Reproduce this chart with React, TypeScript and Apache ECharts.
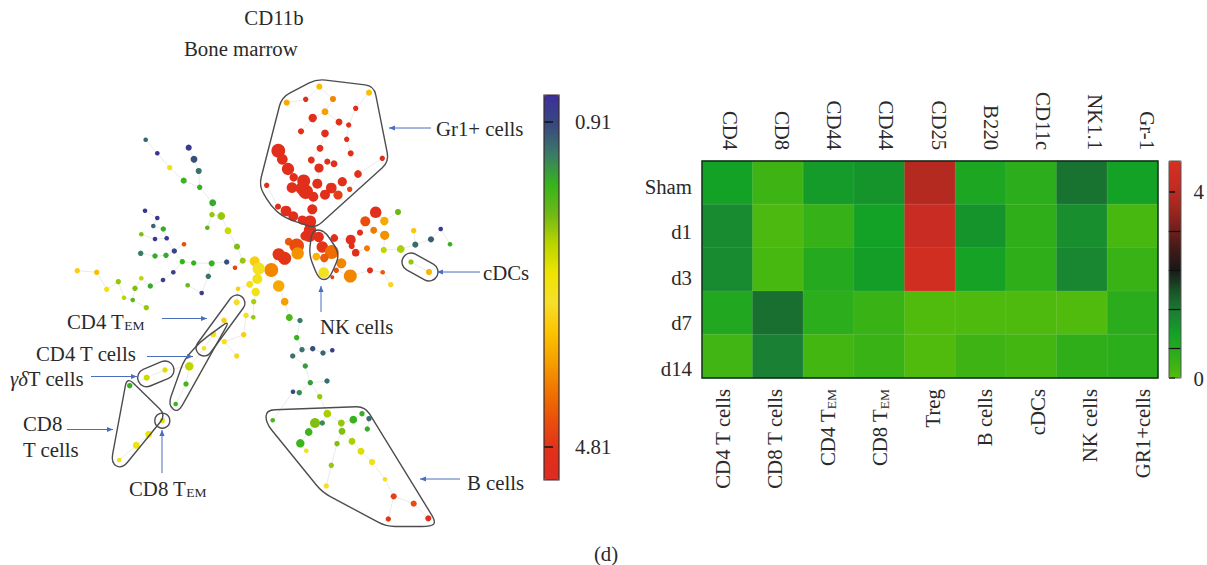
import React, { useEffect, useRef } from "react";
import * as echarts from "echarts";

// ---- Spanning-tree nodes: [x, y, cell count, CD11b expression] ----
const gr1Nodes = [
  [319.3,86.7,5.3,3.5],[369,92.7,5.3,3.5],[286.7,102.7,5.3,3.7],[305.7,99.3,4.7,4.9],[333,99,5.3,4.0],
  [355.7,108.3,4.7,4.85],[325,111.7,6,3.8],[312.7,118,7.3,4.9],[339,122,6,4.9],[348.7,125,4.7,4.9],
  [301,131.3,5.3,4.9],[325,133.3,6.7,4.9],[346.7,139.3,4.7,4.9],[320,148.3,6,4.85],[350.7,153.3,5.3,4.85],
  [382.3,158.3,4.7,4.85],[278.3,150.7,12,4.9],[282.3,159.3,9.3,4.9],[311.3,160,6,4.85],[327.3,161.7,5.3,4.85],
  [334,163.7,6,4.85],[319,168,8,4.9],[288,169,10.7,4.9],[358,174,6.7,4.85],[293.7,177.3,7.3,4.9],
  [342.3,181.7,8,4.85],[266.7,185.3,4.7,4.85],[303.7,181,11.3,4.9],[317.3,183.7,8.7,4.9],[292,187.7,9.3,4.9],
  [301.7,188.3,10.7,4.9],[305.7,191.7,12.7,4.9],[331.3,188,9.3,4.9],[349.7,189.3,4.7,4.6],[313.3,196.7,8.7,4.9],
  [325,194.7,8.7,4.9],[338,195,8,4.7],[278,206.7,5.3,4.85],[286,211,9.3,4.9],[293.3,216.3,8.7,4.9],
  [312.3,209.3,8.7,4.9],[302.3,220,8,4.9],[310,221.7,10.7,4.9],[310,230,10.7,4.9],[309.3,235,12,4.9],
  [305,236,8,4.9],[318.7,237,9,4.9],
];
const nkNodes = [
  [322.3,247,10,4.8],[331.7,252,12,4.2],[324.3,258,7.3,4.4],[316.3,256.7,6.7,3.6],[323.7,272.7,9.3,3.0],
  [341.3,263.3,8.7,4.0],[336.3,270.3,4.7,4.5],[332.3,277.3,3.5,4.7],[350.3,276,11.3,4.0],
];
const rightNodes = [
  [334.3,238,6.7,4.85],[375.7,212.3,10,4.9],[365.3,221.3,8.7,4.5],[384.3,221,7.3,3.7],[398,212,5.3,2.0],
  [373.7,230.3,6,4.1],[384.7,235.3,8,3.9],[360,232.7,5.3,4.85],[350.7,239.7,8.7,4.9],[351.7,246,5.3,4.85],
  [355.7,252.7,6.7,4.85],[367,248.3,5.3,4.1],[383.7,250,5.3,2.4],[400.7,249,6.7,2.3],[413.7,230.7,4.7,3.4],
  [415.3,244.7,5.3,1.2],[431,239.3,5.3,1.1],[440.7,229,4,0.7],[450,244.3,4,1.65],[370,270.3,5.3,4.85],
  [382.7,272.3,4,4.4],[390.7,284.7,4.7,3.2],
];
const cdcNodes = [[411,262,4.7,2.2],[429,272,5.3,3.6]];
const hubNodes = [
  [288.7,241.7,6.7,4.4],[296.7,245.7,12.7,4.55],[297.7,253.3,10.7,3.9],[278.7,254.3,10.7,4.8],[284.7,258.3,11.3,4.8],
  [271.3,270,12,4.0],[278.7,286,10,3.7],[284.7,301.7,6.7,3.8],[254.7,261.3,8.7,3.3],[258.7,268.7,10.7,3.0],
  [257.3,279,8.7,2.9],[249.7,284.3,6,2.9],[255.7,292,7.3,2.9],[238,288.7,4,3.3],[253.7,301.7,4.7,2.3],
  [246,315.3,4.7,2.9],[253.3,317.3,4,2.2],[242.7,260.7,5.3,2.2],[237,246.7,5.3,2.1],[235,267.7,4,4.6],
];
const upperLeftNodes = [
  [145.7,139.7,4,1.15],[157.3,153.3,4,0.7],[188.7,147.7,5.3,0.75],[194,159.3,6,1.0],[198.7,171,5.3,1.25],
  [169.7,167.7,4.7,2.8],[183.7,180.7,5.3,1.7],[199.7,187.3,4.7,1.65],[212.7,202.7,6,1.6],[212,214.7,4.7,2.2],
  [221.3,216,6.7,2.2],[207.3,227.7,4,1.9],[228,230.7,6,2.5],[226.7,262,4.7,1.0],[211.7,263.3,5.3,1.65],
  [193.7,263,4.7,1.65],[182.3,261.7,4.7,1.65],[174.3,251,4.7,0.9],[184,244.3,4,4.5],[166,255.3,4.7,1.6],
  [155,256,4.7,1.6],[140.7,253.3,4.7,1.3],[166.7,238.3,4,0.7],[155,239,4,0.7],[141.3,234.3,4,2.1],
  [163.3,229,4.7,1.6],[153.3,226,4,1.15],[157.3,218,4,0.7],[145,210.7,4,0.7],[173.3,272.3,4,0.8],
  [163,280,4,0.85],[150.3,286,4.7,1.6],[135,288.3,4.7,2.1],[141.3,278.3,4,2.4],[118.3,281.7,4.7,2.2],
  [96.7,272.3,4.7,3.5],[77.3,270.7,4.7,3.3],[106.7,289.3,4.7,2.9],[124,297.7,4,2.4],[132.7,300,4,1.9],
  [146.3,307.7,4.7,2.2],[187.7,285.3,4,2.0],[201.7,293,4,0.8],[208.3,276.3,4.7,1.25],
];
const tCellNodes = [
  [236.7,302.3,5.3,3.1],[224,320.3,4.7,3.3],[213.3,334.3,5.3,3.0],[204,348.3,4,3.0],[243.7,334.7,4.7,3.3],
  [224.3,341.7,4.7,3.0],[236.7,356,4.7,3.2],[189.3,366.3,7.3,2.4],[186,384,4.7,1.75],[175.7,404,4,1.7],
  [165,370,4.7,2.6],[146.7,377.7,5.3,2.5],[129.7,385.7,4.7,1.65],[162.3,420.7,4.7,2.7],[148.7,434.3,6,2.75],
  [136.3,445.3,6,2.75],[119.3,460,4,2.9],
];
const midNodes = [
  [289.3,317.5,6,1.8],[300,320.5,4.7,1.3],[296.7,337.7,4.7,1.65],[302,349.7,4.7,1.25],[312.7,348.7,4.7,1.0],
  [323,353,4.7,1.15],[332.3,350.3,4,0.75],[292.7,356,4.7,1.25],[305.3,366,4.7,1.5],[310.3,382.7,4.7,1.5],
  [327,381,4.7,1.2],[293,391.7,4,0.95],[299.3,392.7,4.7,1.4],[319.7,396.7,4.7,2.2],
];
const bCellNodes = [
  [272.7,420.3,4,1.8],[327.3,413.7,6.7,2.3],[315,423,8.7,2.1],[322.3,423,4.7,1.4],[341.3,423,6,2.2],
  [362,413.7,4.7,1.6],[353.3,419.7,6.7,1.65],[369,418.7,4.7,1.2],[367.3,429,4.7,1.6],[342,431.3,6,2.1],
  [308.7,432,6.7,1.7],[300.3,443.3,7.3,1.7],[306.3,450.7,4,2.9],[337,443.7,4.7,2.1],[352,441.3,6,2.3],
  [361,451.3,6,2.6],[331.3,465.3,4.7,2.2],[372,462,5.3,2.8],[326.3,486,4.7,3.0],[385,479.3,4,3.1],
  [393.7,496.3,5.3,4.65],[413.7,503.7,5.3,4.55],[388.3,519,4.7,4.8],[428.3,518.3,5.3,4.9],
];
const treeNodes = [
  ...gr1Nodes, ...nkNodes, ...rightNodes, ...cdcNodes, ...hubNodes,
  ...upperLeftNodes, ...tCellNodes, ...midNodes, ...bCellNodes,
];

// ---- Tree colour scale ----
const treeTicks = [0.91, 4.81];
const treeMin = 0.589;
const treeMax = 5.21;
const treePalette = [
  "#3c2f9c","#37487f","#3a7a68","#35b41c","#6db816","#b8d400","#eee400",
  "#f5df2a","#fcc400","#f5a000","#f07400","#ea4e0c","#e1301a","#df2a22",
];

// ---- Heat map ----
const markers = ["CD4","CD8","CD44","CD44","CD25","B220","CD11c","NK1.1","Gr-1"];
const cellTypes = ["CD4 T cells","CD8 T cells","CD4 T{sub|EM}","CD8 T{sub|EM}","Treg","B cells","cDCs","NK cells","GR1+cells"];
const timepoints = ["Sham","d1","d3","d7","d14"];
const sham = [0.93,0.28,1.03,1.12,3.91,0.79,0.51,1.54,0.93];
const d1 = [1.26,0.09,0.37,0.93,4.19,1.12,0.47,1.21,0.14];
const d3 = [1.26,0.14,0.65,0.98,4.47,0.89,0.47,1.30,0.33];
const d7 = [0.70,1.58,0.51,0.33,0.02,0.05,0.05,0.02,0.56];
const d14 = [0.23,1.40,0.19,0.33,0.02,0.28,0.19,0.47,0.51];
const heatRows = [sham, d1, d3, d7, d14];
const heatMax = 4.66;
const heatLabelTicks = [0, 4];
const heatMinorTicks = [0.64, 1.48, 2.32, 3.15];
const heatPalette = [
  "#52bc0c","#2fae1a","#14a226","#1a8034","#185428","#181818",
  "#451a18","#7a201c","#a8281f","#c82c22","#d63020",
];

const SERIF = '"Liberation Serif"';
const FONT_SIZE = 20.8;
const INK = "#2a2a2a";
const BLUE = "#4a6ebd";

// Enclosures drawn round the cell populations
const hulls: number[][][] = [
  [[281.7,97.3],[316.7,79],[374,86],[389,161.7],[315,228.5],[283,217],[271,206],[259,186]],
  [[312,230],[324,230],[340,254],[329,279.5],[319,279.5],[309,255]],
  [[266,410],[365,406.5],[436,522],[431,526.5],[386,526.5],[322,492],[266,423]],
  [[230,320],[178,413],[168,405],[184,360],[200,342]],
  [[127,377],[166,415],[122,469],[111,463]],
];
const capsules: number[][] = [
  [411,262,429,272,9],
  [237,303,204,348,8],
  [165,370,146.7,377.7,9],
];

function roundedPath(pts: number[][], r: number) {
  const n = pts.length;
  let d = "";
  pts.forEach((p, i) => {
    const a = pts[(i + n - 1) % n];
    const b = pts[(i + 1) % n];
    const la = Math.hypot(a[0] - p[0], a[1] - p[1]);
    const lb = Math.hypot(b[0] - p[0], b[1] - p[1]);
    const ra = Math.min(r, la / 2);
    const rb = Math.min(r, lb / 2);
    const sx = p[0] + ((a[0] - p[0]) * ra) / la;
    const sy = p[1] + ((a[1] - p[1]) * ra) / la;
    const ex = p[0] + ((b[0] - p[0]) * rb) / lb;
    const ey = p[1] + ((b[1] - p[1]) * rb) / lb;
    d += `${i === 0 ? "M" : "L"}${sx} ${sy}Q${p[0]} ${p[1]} ${ex} ${ey}`;
  });
  return d + "Z";
}

function capsulePath([x0, y0, x1, y1, r]: number[]) {
  const l = Math.hypot(x1 - x0, y1 - y0);
  const nx = (-(y1 - y0) / l) * r;
  const ny = ((x1 - x0) / l) * r;
  return (
    `M${x0 + nx} ${y0 + ny}L${x1 + nx} ${y1 + ny}` +
    `A${r} ${r} 0 0 0 ${x1 - nx} ${y1 - ny}L${x0 - nx} ${y0 - ny}` +
    `A${r} ${r} 0 0 0 ${x0 + nx} ${y0 + ny}Z`
  );
}

// Minimum spanning tree links between the nodes
function spanningLinks(nodes: number[][]) {
  const inTree = new Array(nodes.length).fill(false);
  const best = new Array(nodes.length).fill(Infinity);
  const from = new Array(nodes.length).fill(-1);
  best[0] = 0;
  const links: any[] = [];
  for (let k = 0; k < nodes.length; k++) {
    let u = -1;
    for (let i = 0; i < nodes.length; i++) if (!inTree[i] && (u < 0 || best[i] < best[u])) u = i;
    inTree[u] = true;
    if (from[u] >= 0) links.push({ coords: [nodes[from[u]].slice(0, 2), nodes[u].slice(0, 2)] });
    for (let i = 0; i < nodes.length; i++) {
      const dist = Math.hypot(nodes[i][0] - nodes[u][0], nodes[i][1] - nodes[u][1]);
      if (!inTree[i] && dist < best[i]) {
        best[i] = dist;
        from[i] = u;
      }
    }
  }
  return links;
}

function arrow(x0: number, y0: number, x1: number, y1: number) {
  const l = Math.hypot(x1 - x0, y1 - y0);
  const ux = (x1 - x0) / l;
  const uy = (y1 - y0) / l;
  return [
    { type: "line", z: 90, silent: true, shape: { x1: x0, y1: y0, x2: x1, y2: y1 }, style: { stroke: BLUE, lineWidth: 1 } },
    {
      type: "polygon", z: 90, silent: true,
      shape: { points: [[x1, y1], [x1 - ux * 6 - uy * 2.6, y1 - uy * 6 + ux * 2.6], [x1 - ux * 6 + uy * 2.6, y1 - uy * 6 - ux * 2.6]] },
      style: { fill: BLUE },
    },
  ];
}

const richSub = { sub: { fontSize: 13.5, fontFamily: SERIF, fill: INK, color: INK, padding: [9, 0, 0, 0] } };
const richIt = { it: { fontSize: FONT_SIZE, fontFamily: SERIF, fontStyle: "italic", fill: INK } };

function label(text: string, x: number, y: number, align = "left") {
  return {
    type: "text", z: 95, silent: true, x, y,
    style: {
      text, fontSize: FONT_SIZE, fontFamily: SERIF, fill: INK, align, verticalAlign: "middle",
      rich: { ...richSub, ...richIt },
    },
  };
}

const axisFont = { fontFamily: SERIF, fontSize: FONT_SIZE, color: INK };
const hiddenValue = (gridIndex: number, min = 0, max = 1) => ({ type: "value", gridIndex, show: false, min, max });

export default function App() {
  const ref = useRef<HTMLDivElement>(null);
  useEffect(() => {
    document.body.style.margin = "0";
    document.body.style.background = "#fff";
    const shapes: any[] = [];
    [...hulls.map((h) => roundedPath(h, 9)), ...capsules.map(capsulePath)].forEach((d, i) => {
      const name = "enclosure" + i;
      echarts.graphic.registerShape(name, echarts.graphic.extendPath(d, {}));
      shapes.push({
        type: name, x: 0, y: 0, z: 80, silent: true,
        style: { fill: "none", stroke: "#4d4d4d", lineWidth: 1.4 },
      });
    });
    const chart = echarts.init(ref.current!, undefined, { renderer: "svg" });
    const heatData: number[][] = [];
    heatRows.forEach((row, r) => row.forEach((v, c) => heatData.push([c, r, v])));
    chart.setOption({
      animation: false,
      backgroundColor: "#fff",
      grid: [
        { left: 0, top: 0, width: 540, height: 565 },
        { left: 544, top: 95, width: 15, height: 385 },
        { left: 702, top: 161, width: 456, height: 217 },
        { left: 704, top: 163.2, width: 470, height: 228 },
        { left: 695.75, top: 161, width: 472.5, height: 217 },
        { left: 1169, top: 161, width: 12, height: 217 },
      ],
      xAxis: [
        hiddenValue(0, 0, 540),
        hiddenValue(1),
        { type: "category", gridIndex: 2, show: false, data: markers },
        {
          type: "category", gridIndex: 3, position: "top", data: markers,
          axisLine: { show: false }, axisTick: { show: false },
          axisLabel: { ...axisFont, rotate: 90, margin: 13, interval: 0 },
        },
        {
          type: "category", gridIndex: 4, position: "bottom", data: cellTypes,
          axisLine: { show: false }, axisTick: { show: false },
          axisLabel: { ...axisFont, rotate: 90, margin: 11, interval: 0, rich: richSub },
        },
        hiddenValue(5),
      ],
      yAxis: [
        { type: "value", gridIndex: 0, show: false, min: 0, max: 565, inverse: true },
        {
          type: "value", gridIndex: 1, position: "right", min: treeMin, max: treeMax, inverse: true, z: 20,
          axisLine: { show: false },
          axisTick: { show: true, length: 9, lineStyle: { color: "#111", width: 1.5 }, customValues: treeTicks },
          axisLabel: { ...axisFont, margin: 16, customValues: treeTicks, formatter: (v: number) => v.toFixed(2), showMinLabel: true, showMaxLabel: true },
          splitLine: { show: false },
        },
        { type: "category", gridIndex: 2, show: false, inverse: true, data: timepoints },
        {
          type: "category", gridIndex: 3, position: "left", inverse: true, data: timepoints,
          axisLine: { show: false }, axisTick: { show: false },
          axisLabel: { ...axisFont, margin: 12, interval: 0 },
        },
        { type: "category", gridIndex: 4, show: false, inverse: true, data: timepoints },
        {
          type: "value", gridIndex: 5, position: "right", min: 0, max: heatMax, z: 20,
          axisLine: { show: false },
          axisTick: { show: true, length: 6, lineStyle: { color: "#111", width: 1.5 }, customValues: heatLabelTicks },
          axisLabel: { ...axisFont, margin: 13, customValues: heatLabelTicks, showMinLabel: true },
          splitLine: { show: false },
        },
        {
          type: "value", gridIndex: 5, position: "right", min: 0, max: heatMax, z: 20,
          axisLine: { show: false },
          axisTick: { show: true, inside: true, length: 12, lineStyle: { color: "#111", width: 1.2 }, customValues: heatMinorTicks },
          axisLabel: { show: false },
          splitLine: { show: false },
        },
      ],
      visualMap: [
        {
          type: "continuous", seriesIndex: 1, dimension: 3, min: treeMin, max: treeMax,
          inRange: { color: treePalette }, left: 544, top: 95, itemWidth: 15, itemHeight: 385,
          inverse: true, calculable: false, realtime: false, hoverLink: false, padding: 0, text: null,
          showLabel: false,
        },
        {
          type: "continuous", seriesIndex: 2, dimension: 2, min: 0, max: heatMax,
          inRange: { color: heatPalette }, left: 1169, top: 161, itemWidth: 12, itemHeight: 217,
          calculable: false, realtime: false, hoverLink: false, padding: 0, text: null,
          showLabel: false,
        },
      ],
      series: [
        {
          type: "lines", coordinateSystem: "cartesian2d", xAxisIndex: 0, yAxisIndex: 0, silent: true, z: 1,
          lineStyle: { color: "#ebebeb", width: 1, opacity: 1 },
          data: spanningLinks(treeNodes),
        },
        {
          type: "scatter", xAxisIndex: 0, yAxisIndex: 0, z: 2, silent: true,
          symbolSize: (v: number[]) => v[2] * 1.15,
          itemStyle: { opacity: 1 },
          data: treeNodes,
        },
        {
          type: "heatmap", xAxisIndex: 2, yAxisIndex: 2, z: 2, silent: true,
          itemStyle: { borderColor: "rgba(255,255,255,0.14)", borderWidth: 0.6 },
          data: heatData,
        },
      ],
      graphic: {
        elements: [
          ...shapes,
          { type: "circle", z: 80, silent: true, shape: { cx: 162.3, cy: 420.7, r: 7.5 }, style: { fill: "none", stroke: "#4d4d4d", lineWidth: 1.4 } },
          { type: "rect", z: 100, silent: true, shape: { x: 544, y: 95, width: 15, height: 385 }, style: { fill: "none", stroke: "#3a2a2a", lineWidth: 1.2 } },
          { type: "rect", z: 100, silent: true, shape: { x: 702, y: 161, width: 456, height: 217 }, style: { fill: "none", stroke: "#10261a", lineWidth: 1.4 } },
          { type: "rect", z: 100, silent: true, shape: { x: 1169, y: 161, width: 12, height: 217 }, style: { fill: "none", stroke: "#555", lineWidth: 1 } },
          ...arrow(431, 128, 389, 128),
          ...arrow(480, 272, 437, 272),
          ...arrow(321, 312, 321, 286),
          ...arrow(460, 479, 420, 479),
          ...arrow(162, 318.5, 207, 318.5),
          ...arrow(147, 356.5, 193, 356.5),
          ...arrow(91, 376.5, 137, 376.5),
          ...arrow(67, 429.5, 113, 429.5),
          ...arrow(162, 473, 162, 430),
          label("CD11b", 274, 17, "center"),
          label("Bone marrow", 184, 48),
          label("Gr1+ cells", 436, 128),
          label("cDCs", 483, 272),
          label("NK cells", 320, 326),
          label("B cells", 467, 482),
          label("CD4 T{sub|EM}", 67, 321),
          label("CD4 T cells", 36, 353),
          label("{it|γδ}T cells", 10, 378),
          label("CD8", 23, 423),
          label("T cells", 23, 449),
          label("CD8 T{sub|EM}", 129, 488),
          label("(d)", 606, 553, "center"),
        ],
      },
    });
    return () => chart.dispose();
  }, []);
  return <div ref={ref} style={{ width: 1207, height: 565 }} />;
}
